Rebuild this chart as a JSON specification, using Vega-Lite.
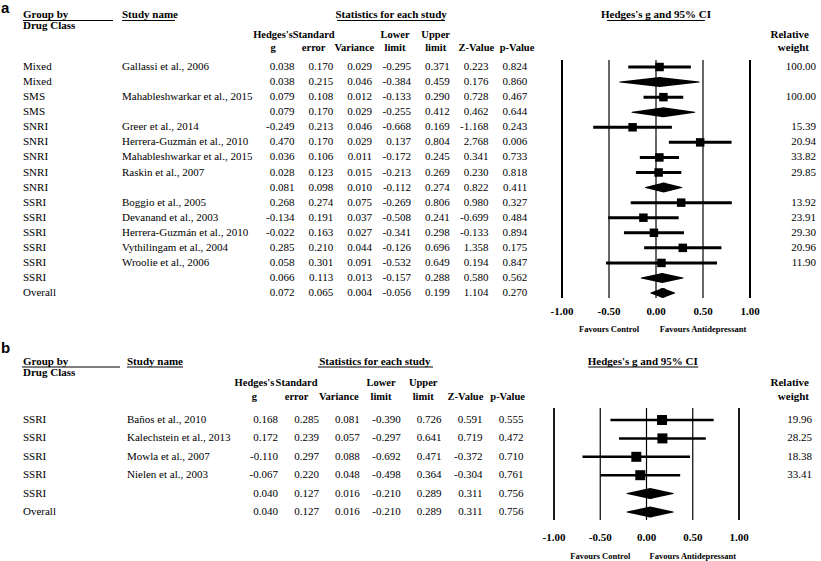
{
"$schema": "https://vega.github.io/schema/vega-lite/v6.json",
"padding": 0,
"background": "white",
"spacing": 0,
"bounds": "flush",
"config": {"view": {"stroke": null}, "locale": {"number": {"decimal": ".", "thousands": ",", "grouping": [3], "currency": ["$", ""], "minus": "-"}}, "text": {"font": "'Liberation Serif', 'Times New Roman', Tinos, serif", "fontSize": 11, "color": "black", "baseline": "middle"}},
"datasets": {
"A": [
{"row":1,"group":"Mixed","study":"Gallassi et al., 2006","g":0.038,"se":0.170,"var":0.029,"lower":-0.295,"upper":0.371,"z":0.223,"p":0.824,"weight":100.00,"type":"study"},
{"row":2,"group":"Mixed","study":"","g":0.038,"se":0.215,"var":0.046,"lower":-0.384,"upper":0.459,"z":0.176,"p":0.860,"weight":null,"type":"summary"},
{"row":3,"group":"SMS","study":"Mahableshwarkar et al., 2015","g":0.079,"se":0.108,"var":0.012,"lower":-0.133,"upper":0.290,"z":0.728,"p":0.467,"weight":100.00,"type":"study"},
{"row":4,"group":"SMS","study":"","g":0.079,"se":0.170,"var":0.029,"lower":-0.255,"upper":0.412,"z":0.462,"p":0.644,"weight":null,"type":"summary"},
{"row":5,"group":"SNRI","study":"Greer et al., 2014","g":-0.249,"se":0.213,"var":0.046,"lower":-0.668,"upper":0.169,"z":-1.168,"p":0.243,"weight":15.39,"type":"study"},
{"row":6,"group":"SNRI","study":"Herrera-Guzmán et al., 2010","g":0.470,"se":0.170,"var":0.029,"lower":0.137,"upper":0.804,"z":2.768,"p":0.006,"weight":20.94,"type":"study"},
{"row":7,"group":"SNRI","study":"Mahableshwarkar et al., 2015","g":0.036,"se":0.106,"var":0.011,"lower":-0.172,"upper":0.245,"z":0.341,"p":0.733,"weight":33.82,"type":"study"},
{"row":8,"group":"SNRI","study":"Raskin et al., 2007","g":0.028,"se":0.123,"var":0.015,"lower":-0.213,"upper":0.269,"z":0.230,"p":0.818,"weight":29.85,"type":"study"},
{"row":9,"group":"SNRI","study":"","g":0.081,"se":0.098,"var":0.010,"lower":-0.112,"upper":0.274,"z":0.822,"p":0.411,"weight":null,"type":"summary"},
{"row":10,"group":"SSRI","study":"Boggio et al., 2005","g":0.268,"se":0.274,"var":0.075,"lower":-0.269,"upper":0.806,"z":0.980,"p":0.327,"weight":13.92,"type":"study"},
{"row":11,"group":"SSRI","study":"Devanand et al., 2003","g":-0.134,"se":0.191,"var":0.037,"lower":-0.508,"upper":0.241,"z":-0.699,"p":0.484,"weight":23.91,"type":"study"},
{"row":12,"group":"SSRI","study":"Herrera-Guzmán et al., 2010","g":-0.022,"se":0.163,"var":0.027,"lower":-0.341,"upper":0.298,"z":-0.133,"p":0.894,"weight":29.30,"type":"study"},
{"row":13,"group":"SSRI","study":"Vythilingam et al., 2004","g":0.285,"se":0.210,"var":0.044,"lower":-0.126,"upper":0.696,"z":1.358,"p":0.175,"weight":20.96,"type":"study"},
{"row":14,"group":"SSRI","study":"Wroolie et al., 2006","g":0.058,"se":0.301,"var":0.091,"lower":-0.532,"upper":0.649,"z":0.194,"p":0.847,"weight":11.90,"type":"study"},
{"row":15,"group":"SSRI","study":"","g":0.066,"se":0.113,"var":0.013,"lower":-0.157,"upper":0.288,"z":0.580,"p":0.562,"weight":null,"type":"summary"},
{"row":16,"group":"Overall","study":"","g":0.072,"se":0.065,"var":0.004,"lower":-0.056,"upper":0.199,"z":1.104,"p":0.270,"weight":null,"type":"summary"}
],
"B": [
{"row":1,"group":"SSRI","study":"Baños et al., 2010","g":0.168,"se":0.285,"var":0.081,"lower":-0.390,"upper":0.726,"z":0.591,"p":0.555,"weight":19.96,"type":"study"},
{"row":2,"group":"SSRI","study":"Kalechstein et al., 2013","g":0.172,"se":0.239,"var":0.057,"lower":-0.297,"upper":0.641,"z":0.719,"p":0.472,"weight":28.25,"type":"study"},
{"row":3,"group":"SSRI","study":"Mowla et al., 2007","g":-0.110,"se":0.297,"var":0.088,"lower":-0.692,"upper":0.471,"z":-0.372,"p":0.710,"weight":18.38,"type":"study"},
{"row":4,"group":"SSRI","study":"Nielen et al., 2003","g":-0.067,"se":0.220,"var":0.048,"lower":-0.498,"upper":0.364,"z":-0.304,"p":0.761,"weight":33.41,"type":"study"},
{"row":5,"group":"SSRI","study":"","g":0.040,"se":0.127,"var":0.016,"lower":-0.210,"upper":0.289,"z":0.311,"p":0.756,"weight":null,"type":"summary"},
{"row":6,"group":"Overall","study":"","g":0.040,"se":0.127,"var":0.016,"lower":-0.210,"upper":0.289,"z":0.311,"p":0.756,"weight":null,"type":"summary"}
],
"H": [
{"key":"g","l1":"Hedges's","l2":"g"},
{"key":"se","l1":"Standard","l2":"error"},
{"key":"var","l1":"","l2":"Variance"},
{"key":"lower","l1":"Lower","l2":"limit"},
{"key":"upper","l1":"Upper","l2":"limit"},
{"key":"z","l1":"","l2":"Z-Value"},
{"key":"p","l1":"","l2":"p-Value"}
],
"T": [{"t":-1},{"t":-0.5},{"t":0},{"t":0.5},{"t":1}],
"TOP": [{"g1":"Group by","g2":"Drug Class","sn":"Study name","st":"Statistics for each study","ci":"Hedges's g and 95% CI","w1":"Relative","w2":"weight","fc":"Favours Control","fa":"Favours Antidepressant"}]
},
"vconcat": [
{
"width": 821, "height": 340,
"data": {"name": "A"},
"resolve": {"scale": {"x": "independent"}},
"layer": [
{"transform": [{"fold": ["g","se","var","lower","upper","z","p"]}],
 "mark": {"type": "text", "align": "right"},
 "encoding": {"x": {"field": "key", "type": "nominal", "scale": {"domain": ["g","se","var","lower","upper","z","p"], "range": [275.1, 546.7], "paddingInner": 0, "paddingOuter": 0}, "axis": null},
  "y": {"field": "row", "type": "quantitative", "scale": {"domain": [-3.446, 19.114], "reverse": true, "nice": false, "zero": false}, "axis": null},
  "text": {"field": "value", "type": "quantitative", "format": ".3f"}}},
{"transform": [{"fold": ["group","study"]}],
 "mark": {"type": "text", "align": "left"},
 "encoding": {"x": {"field": "key", "type": "nominal", "scale": {"domain": ["group","study"], "range": [-26.5, 171.5], "paddingInner": 0, "paddingOuter": 0}, "axis": null},
  "y": {"field": "row", "type": "quantitative", "axis": null},
  "text": {"field": "value", "type": "nominal"}}},
{"transform": [{"filter": "isValid(datum.weight)"}],
 "mark": {"type": "text", "align": "right"},
 "encoding": {"x": {"datum": "w", "type": "nominal", "scale": {"domain": ["w"], "range": [796, 836], "paddingInner": 0, "paddingOuter": 0}, "axis": null},
  "y": {"field": "row", "type": "quantitative", "axis": null},
  "text": {"field": "weight", "type": "quantitative", "format": ".2f"}}},
{"data": {"name": "H"},
 "mark": {"type": "text", "align": "center", "fontWeight": "bold", "fontSize": 10.5},
 "encoding": {"x": {"field": "key", "type": "nominal", "scale": {"domain": ["g","se","var","lower","upper","z","p"], "range": [252.67, 537.33], "paddingInner": 0, "paddingOuter": 0}, "axis": null},
  "y": {"datum": -1.12, "type": "quantitative", "axis": null},
  "text": {"field": "l1", "type": "nominal"}}},
{"data": {"name": "H"},
 "mark": {"type": "text", "align": "center", "fontWeight": "bold", "fontSize": 10.5},
 "encoding": {"x": {"field": "key", "type": "nominal", "scale": {"domain": ["g","se","var","lower","upper","z","p"], "range": [252.67, 537.33], "paddingInner": 0, "paddingOuter": 0}, "axis": null},
  "y": {"datum": -0.26, "type": "quantitative", "axis": null},
  "text": {"field": "l2", "type": "nominal"}}},
{"data": {"name": "TOP"},
 "mark": {"type": "text", "text": "a", "font": "'Liberation Sans', Arial, sans-serif", "fontSize": 15, "fontWeight": "bold", "align": "left", "baseline": "top", "dx": -22},
 "encoding": {"x": {"datum": "group", "type": "nominal", "scale": {"domain": ["group","study"], "range": [-26.5, 171.5], "paddingInner": 0, "paddingOuter": 0}, "axis": null},
  "y": {"datum": -3.40, "type": "quantitative", "axis": null}}},
{"data": {"name": "TOP"},
 "mark": {"type": "text", "align": "left", "fontWeight": "bold"},
 "encoding": {"x": {"datum": "group", "type": "nominal", "scale": {"domain": ["group","study"], "range": [-26.5, 171.5], "paddingInner": 0, "paddingOuter": 0}, "axis": null},
  "y": {"datum": -2.48, "type": "quantitative", "axis": null},
  "text": {"field": "g1", "type": "nominal"}}},
{"data": {"name": "TOP"},
 "mark": {"type": "text", "align": "left", "fontWeight": "bold"},
 "encoding": {"x": {"datum": "group", "type": "nominal", "scale": {"domain": ["group","study"], "range": [-26.5, 171.5], "paddingInner": 0, "paddingOuter": 0}, "axis": null},
  "y": {"datum": -1.754, "type": "quantitative", "axis": null},
  "text": {"field": "g2", "type": "nominal"}}},
{"data": {"name": "TOP"},
 "mark": {"type": "text", "align": "left", "fontWeight": "bold"},
 "encoding": {"x": {"datum": "study", "type": "nominal", "scale": {"domain": ["group","study"], "range": [-26.5, 171.5], "paddingInner": 0, "paddingOuter": 0}, "axis": null},
  "y": {"datum": -2.48, "type": "quantitative", "axis": null},
  "text": {"field": "sn", "type": "nominal"}}},
{"data": {"name": "TOP"},
 "mark": {"type": "rule", "color": "black", "strokeWidth": 1},
 "encoding": {"x": {"datum": "s", "type": "nominal", "bandPosition": 0, "scale": {"domain": ["s","e"], "range": [23, 203], "paddingInner": 0, "paddingOuter": 0}, "axis": null},
  "x2": {"datum": "e", "bandPosition": 0},
  "y": {"datum": -2.086, "type": "quantitative", "axis": null}}},
{"data": {"name": "TOP"},
 "mark": {"type": "rule", "color": "black", "strokeWidth": 1},
 "encoding": {"x": {"datum": "s", "type": "nominal", "bandPosition": 0, "scale": {"domain": ["s","e"], "range": [122, 228], "paddingInner": 0, "paddingOuter": 0}, "axis": null},
  "x2": {"datum": "e", "bandPosition": 0},
  "y": {"datum": -2.086, "type": "quantitative", "axis": null}}},
{"data": {"name": "TOP"},
 "mark": {"type": "text", "align": "center", "fontWeight": "bold", "dx": 19},
 "encoding": {"x": {"datum": "var", "type": "nominal", "scale": {"domain": ["g","se","var","lower","upper","z","p"], "range": [275.1, 546.7], "paddingInner": 0, "paddingOuter": 0}, "axis": null},
  "y": {"datum": -2.48, "type": "quantitative", "axis": null},
  "text": {"field": "st", "type": "nominal"}}},
{"data": {"name": "TOP"},
 "mark": {"type": "rule", "color": "black", "strokeWidth": 1},
 "encoding": {"x": {"datum": "s", "type": "nominal", "bandPosition": 0, "scale": {"domain": ["s","e"], "range": [337, 553], "paddingInner": 0, "paddingOuter": 0}, "axis": null},
  "x2": {"datum": "e", "bandPosition": 0},
  "y": {"datum": -2.086, "type": "quantitative", "axis": null}}},
{"data": {"name": "TOP"},
 "mark": {"type": "text", "align": "center", "fontWeight": "bold"},
 "encoding": {"x": {"datum": 0, "type": "quantitative", "scale": {"domain": [-1, 1], "range": [562, 750], "nice": false, "zero": false}, "axis": null},
  "y": {"datum": -2.48, "type": "quantitative", "axis": null},
  "text": {"field": "ci", "type": "nominal"}}},
{"data": {"name": "TOP"},
 "mark": {"type": "rule", "color": "black", "strokeWidth": 1},
 "encoding": {"x": {"datum": -0.52, "type": "quantitative", "scale": {"domain": [-1, 1], "range": [562, 750], "nice": false, "zero": false}, "axis": null},
  "x2": {"datum": 0.52},
  "y": {"datum": -2.086, "type": "quantitative", "axis": null}}},
{"data": {"name": "TOP"},
 "mark": {"type": "text", "align": "right", "fontWeight": "bold", "dx": -7},
 "encoding": {"x": {"datum": "w", "type": "nominal", "scale": {"domain": ["w"], "range": [796, 836], "paddingInner": 0, "paddingOuter": 0}, "axis": null},
  "y": {"datum": -1.12, "type": "quantitative", "axis": null},
  "text": {"field": "w1", "type": "nominal"}}},
{"data": {"name": "TOP"},
 "mark": {"type": "text", "align": "right", "fontWeight": "bold", "dx": -7},
 "encoding": {"x": {"datum": "w", "type": "nominal", "scale": {"domain": ["w"], "range": [796, 836], "paddingInner": 0, "paddingOuter": 0}, "axis": null},
  "y": {"datum": -0.26, "type": "quantitative", "axis": null},
  "text": {"field": "w2", "type": "nominal"}}},
{"data": {"name": "T"},
 "mark": {"type": "rule", "color": "black"},
 "encoding": {"x": {"field": "t", "type": "quantitative", "scale": {"domain": [-1, 1], "range": [562, 750], "nice": false, "zero": false}, "axis": null},
  "y": {"datum": 0.54, "type": "quantitative", "axis": null},
  "y2": {"datum": 16.33},
  "strokeWidth": {"condition": {"test": "abs(datum.t) === 1", "value": 2}, "value": 1.2}}},
{"data": {"name": "T"},
 "mark": {"type": "text", "align": "center", "fontWeight": "bold"},
 "encoding": {"x": {"field": "t", "type": "quantitative", "scale": {"domain": [-1, 1], "range": [562, 750], "nice": false, "zero": false}, "axis": null},
  "y": {"datum": 17.26, "type": "quantitative", "axis": null},
  "text": {"field": "t", "type": "quantitative", "format": ".2f"}}},
{"transform": [{"filter": "datum.type === 'study'"}],
 "mark": {"type": "rule", "color": "black", "strokeWidth": 3},
 "encoding": {"x": {"field": "lower", "type": "quantitative", "scale": {"domain": [-1, 1], "range": [562, 750], "nice": false, "zero": false}, "axis": null},
  "x2": {"field": "upper"},
  "y": {"field": "row", "type": "quantitative", "axis": null}}},
{"transform": [{"filter": "datum.type === 'study'"}],
 "mark": {"type": "square", "filled": true, "color": "black", "opacity": 1, "size": 72},
 "encoding": {"x": {"field": "g", "type": "quantitative", "scale": {"domain": [-1, 1], "range": [562, 750], "nice": false, "zero": false}, "axis": null},
  "y": {"field": "row", "type": "quantitative", "axis": null}}},
{"transform": [{"filter": "datum.type === 'summary'"}, {"fold": ["lower","g","upper"], "as": ["k","v"]}],
 "mark": {"type": "trail", "color": "black"},
 "encoding": {"x": {"field": "v", "type": "quantitative", "scale": {"domain": [-1, 1], "range": [562, 750], "nice": false, "zero": false}, "axis": null},
  "y": {"field": "row", "type": "quantitative", "axis": null},
  "detail": {"field": "row", "type": "nominal"},
  "order": {"field": "v", "type": "quantitative"},
  "size": {"condition": {"test": "datum.k === 'g'", "value": 10}, "value": 0}}},
{"data": {"name": "TOP"},
 "mark": {"type": "text", "align": "center", "fontWeight": "bold", "fontSize": 8.5},
 "encoding": {"x": {"datum": -0.5, "type": "quantitative", "scale": {"domain": [-1, 1], "range": [562, 750], "nice": false, "zero": false}, "axis": null},
  "y": {"datum": 18.38, "type": "quantitative", "axis": null},
  "text": {"field": "fc", "type": "nominal"}}},
{"data": {"name": "TOP"},
 "mark": {"type": "text", "align": "center", "fontWeight": "bold", "fontSize": 8.5},
 "encoding": {"x": {"datum": 0.5, "type": "quantitative", "scale": {"domain": [-1, 1], "range": [562, 750], "nice": false, "zero": false}, "axis": null},
  "y": {"datum": 18.38, "type": "quantitative", "axis": null},
  "text": {"field": "fa", "type": "nominal"}}}
]
},
{
"width": 821, "height": 221,
"data": {"name": "B"},
"resolve": {"scale": {"x": "independent"}},
"layer": [
{"transform": [{"fold": ["g","se","var","lower","upper","z","p"]}],
 "mark": {"type": "text", "align": "right"},
 "encoding": {"x": {"field": "key", "type": "nominal", "scale": {"domain": ["g","se","var","lower","upper","z","p"], "range": [257.55, 543.85], "paddingInner": 0, "paddingOuter": 0}, "axis": null},
  "y": {"field": "row", "type": "quantitative", "scale": {"domain": [-3.348, 8.663], "reverse": true, "nice": false, "zero": false}, "axis": null},
  "text": {"field": "value", "type": "quantitative", "format": ".3f"}}},
{"transform": [{"fold": ["group","study"]}],
 "mark": {"type": "text", "align": "left"},
 "encoding": {"x": {"field": "key", "type": "nominal", "scale": {"domain": ["group","study"], "range": [-29, 179], "paddingInner": 0, "paddingOuter": 0}, "axis": null},
  "y": {"field": "row", "type": "quantitative", "axis": null},
  "text": {"field": "value", "type": "nominal"}}},
{"transform": [{"filter": "isValid(datum.weight)"}],
 "mark": {"type": "text", "align": "right"},
 "encoding": {"x": {"datum": "w", "type": "nominal", "scale": {"domain": ["w"], "range": [792, 832], "paddingInner": 0, "paddingOuter": 0}, "axis": null},
  "y": {"field": "row", "type": "quantitative", "axis": null},
  "text": {"field": "weight", "type": "quantitative", "format": ".2f"}}},
{"data": {"name": "H"},
 "mark": {"type": "text", "align": "center", "fontWeight": "bold", "fontSize": 10.5},
 "encoding": {"x": {"field": "key", "type": "nominal", "scale": {"domain": ["g","se","var","lower","upper","z","p"], "range": [233.3, 528.7], "paddingInner": 0, "paddingOuter": 0}, "axis": null},
  "y": {"datum": -1.03, "type": "quantitative", "axis": null},
  "text": {"field": "l1", "type": "nominal"}}},
{"data": {"name": "H"},
 "mark": {"type": "text", "align": "center", "fontWeight": "bold", "fontSize": 10.5},
 "encoding": {"x": {"field": "key", "type": "nominal", "scale": {"domain": ["g","se","var","lower","upper","z","p"], "range": [233.3, 528.7], "paddingInner": 0, "paddingOuter": 0}, "axis": null},
  "y": {"datum": -0.23, "type": "quantitative", "axis": null},
  "text": {"field": "l2", "type": "nominal"}}},
{"data": {"name": "TOP"},
 "mark": {"type": "text", "text": "b", "font": "'Liberation Sans', Arial, sans-serif", "fontSize": 15, "fontWeight": "bold", "align": "left", "baseline": "top", "dx": -22},
 "encoding": {"x": {"datum": "group", "type": "nominal", "scale": {"domain": ["group","study"], "range": [-29, 179], "paddingInner": 0, "paddingOuter": 0}, "axis": null},
  "y": {"datum": -3.30, "type": "quantitative", "axis": null}}},
{"data": {"name": "TOP"},
 "mark": {"type": "text", "align": "left", "fontWeight": "bold"},
 "encoding": {"x": {"datum": "group", "type": "nominal", "scale": {"domain": ["group","study"], "range": [-29, 179], "paddingInner": 0, "paddingOuter": 0}, "axis": null},
  "y": {"datum": -2.17, "type": "quantitative", "axis": null},
  "text": {"field": "g1", "type": "nominal"}}},
{"data": {"name": "TOP"},
 "mark": {"type": "text", "align": "left", "fontWeight": "bold"},
 "encoding": {"x": {"datum": "group", "type": "nominal", "scale": {"domain": ["group","study"], "range": [-29, 179], "paddingInner": 0, "paddingOuter": 0}, "axis": null},
  "y": {"datum": -1.54, "type": "quantitative", "axis": null},
  "text": {"field": "g2", "type": "nominal"}}},
{"data": {"name": "TOP"},
 "mark": {"type": "text", "align": "left", "fontWeight": "bold"},
 "encoding": {"x": {"datum": "study", "type": "nominal", "scale": {"domain": ["group","study"], "range": [-29, 179], "paddingInner": 0, "paddingOuter": 0}, "axis": null},
  "y": {"datum": -2.17, "type": "quantitative", "axis": null},
  "text": {"field": "sn", "type": "nominal"}}},
{"data": {"name": "TOP"},
 "mark": {"type": "rule", "color": "black", "strokeWidth": 1},
 "encoding": {"x": {"datum": "s", "type": "nominal", "bandPosition": 0, "scale": {"domain": ["s","e"], "range": [22, 218], "paddingInner": 0, "paddingOuter": 0}, "axis": null},
  "x2": {"datum": "e", "bandPosition": 0},
  "y": {"datum": -1.88, "type": "quantitative", "axis": null}}},
{"data": {"name": "TOP"},
 "mark": {"type": "rule", "color": "black", "strokeWidth": 1},
 "encoding": {"x": {"datum": "s", "type": "nominal", "bandPosition": 0, "scale": {"domain": ["s","e"], "range": [127, 239], "paddingInner": 0, "paddingOuter": 0}, "axis": null},
  "x2": {"datum": "e", "bandPosition": 0},
  "y": {"datum": -1.88, "type": "quantitative", "axis": null}}},
{"data": {"name": "TOP"},
 "mark": {"type": "text", "align": "center", "fontWeight": "bold", "dx": 15},
 "encoding": {"x": {"datum": "var", "type": "nominal", "scale": {"domain": ["g","se","var","lower","upper","z","p"], "range": [257.55, 543.85], "paddingInner": 0, "paddingOuter": 0}, "axis": null},
  "y": {"datum": -2.17, "type": "quantitative", "axis": null},
  "text": {"field": "st", "type": "nominal"}}},
{"data": {"name": "TOP"},
 "mark": {"type": "rule", "color": "black", "strokeWidth": 1},
 "encoding": {"x": {"datum": "s", "type": "nominal", "bandPosition": 0, "scale": {"domain": ["s","e"], "range": [318, 548], "paddingInner": 0, "paddingOuter": 0}, "axis": null},
  "x2": {"datum": "e", "bandPosition": 0},
  "y": {"datum": -1.88, "type": "quantitative", "axis": null}}},
{"data": {"name": "TOP"},
 "mark": {"type": "text", "align": "center", "fontWeight": "bold"},
 "encoding": {"x": {"datum": -0.04, "type": "quantitative", "scale": {"domain": [-1, 1], "range": [554, 739], "nice": false, "zero": false}, "axis": null},
  "y": {"datum": -2.17, "type": "quantitative", "axis": null},
  "text": {"field": "ci", "type": "nominal"}}},
{"data": {"name": "TOP"},
 "mark": {"type": "rule", "color": "black", "strokeWidth": 1},
 "encoding": {"x": {"datum": -0.63, "type": "quantitative", "scale": {"domain": [-1, 1], "range": [554, 739], "nice": false, "zero": false}, "axis": null},
  "x2": {"datum": 0.56},
  "y": {"datum": -1.88, "type": "quantitative", "axis": null}}},
{"data": {"name": "TOP"},
 "mark": {"type": "text", "align": "right", "fontWeight": "bold", "dx": -3},
 "encoding": {"x": {"datum": "w", "type": "nominal", "scale": {"domain": ["w"], "range": [792, 832], "paddingInner": 0, "paddingOuter": 0}, "axis": null},
  "y": {"datum": -1.03, "type": "quantitative", "axis": null},
  "text": {"field": "w1", "type": "nominal"}}},
{"data": {"name": "TOP"},
 "mark": {"type": "text", "align": "right", "fontWeight": "bold", "dx": -3},
 "encoding": {"x": {"datum": "w", "type": "nominal", "scale": {"domain": ["w"], "range": [792, 832], "paddingInner": 0, "paddingOuter": 0}, "axis": null},
  "y": {"datum": -0.23, "type": "quantitative", "axis": null},
  "text": {"field": "w2", "type": "nominal"}}},
{"data": {"name": "T"},
 "mark": {"type": "rule", "color": "black"},
 "encoding": {"x": {"field": "t", "type": "quantitative", "scale": {"domain": [-1, 1], "range": [554, 739], "nice": false, "zero": false}, "axis": null},
  "y": {"datum": 0.35, "type": "quantitative", "axis": null},
  "y2": {"datum": 6.43},
  "strokeWidth": {"condition": {"test": "abs(datum.t) === 1", "value": 1.8}, "value": 1.2}}},
{"data": {"name": "T"},
 "mark": {"type": "text", "align": "center", "fontWeight": "bold"},
 "encoding": {"x": {"field": "t", "type": "quantitative", "scale": {"domain": [-1, 1], "range": [554, 739], "nice": false, "zero": false}, "axis": null},
  "y": {"datum": 7.41, "type": "quantitative", "axis": null},
  "text": {"field": "t", "type": "quantitative", "format": ".2f"}}},
{"transform": [{"filter": "datum.type === 'study'"}],
 "mark": {"type": "rule", "color": "black", "strokeWidth": 2.5},
 "encoding": {"x": {"field": "lower", "type": "quantitative", "scale": {"domain": [-1, 1], "range": [554, 739], "nice": false, "zero": false}, "axis": null},
  "x2": {"field": "upper"},
  "y": {"field": "row", "type": "quantitative", "axis": null}}},
{"transform": [{"filter": "datum.type === 'study'"}],
 "mark": {"type": "square", "filled": true, "color": "black", "opacity": 1, "size": 100},
 "encoding": {"x": {"field": "g", "type": "quantitative", "scale": {"domain": [-1, 1], "range": [554, 739], "nice": false, "zero": false}, "axis": null},
  "y": {"field": "row", "type": "quantitative", "axis": null}}},
{"transform": [{"filter": "datum.type === 'summary'"}, {"fold": ["lower","g","upper"], "as": ["k","v"]}],
 "mark": {"type": "trail", "color": "black"},
 "encoding": {"x": {"field": "v", "type": "quantitative", "scale": {"domain": [-1, 1], "range": [554, 739], "nice": false, "zero": false}, "axis": null},
  "y": {"field": "row", "type": "quantitative", "axis": null},
  "detail": {"field": "row", "type": "nominal"},
  "order": {"field": "v", "type": "quantitative"},
  "size": {"condition": {"test": "datum.k === 'g'", "value": 11}, "value": 0}}},
{"data": {"name": "TOP"},
 "mark": {"type": "text", "align": "center", "fontWeight": "bold", "fontSize": 8.5},
 "encoding": {"x": {"datum": -0.5, "type": "quantitative", "scale": {"domain": [-1, 1], "range": [554, 739], "nice": false, "zero": false}, "axis": null},
  "y": {"datum": 8.39, "type": "quantitative", "axis": null},
  "text": {"field": "fc", "type": "nominal"}}},
{"data": {"name": "TOP"},
 "mark": {"type": "text", "align": "center", "fontWeight": "bold", "fontSize": 8.5},
 "encoding": {"x": {"datum": 0.5, "type": "quantitative", "scale": {"domain": [-1, 1], "range": [554, 739], "nice": false, "zero": false}, "axis": null},
  "y": {"datum": 8.39, "type": "quantitative", "axis": null},
  "text": {"field": "fa", "type": "nominal"}}}
]
}
]
}
